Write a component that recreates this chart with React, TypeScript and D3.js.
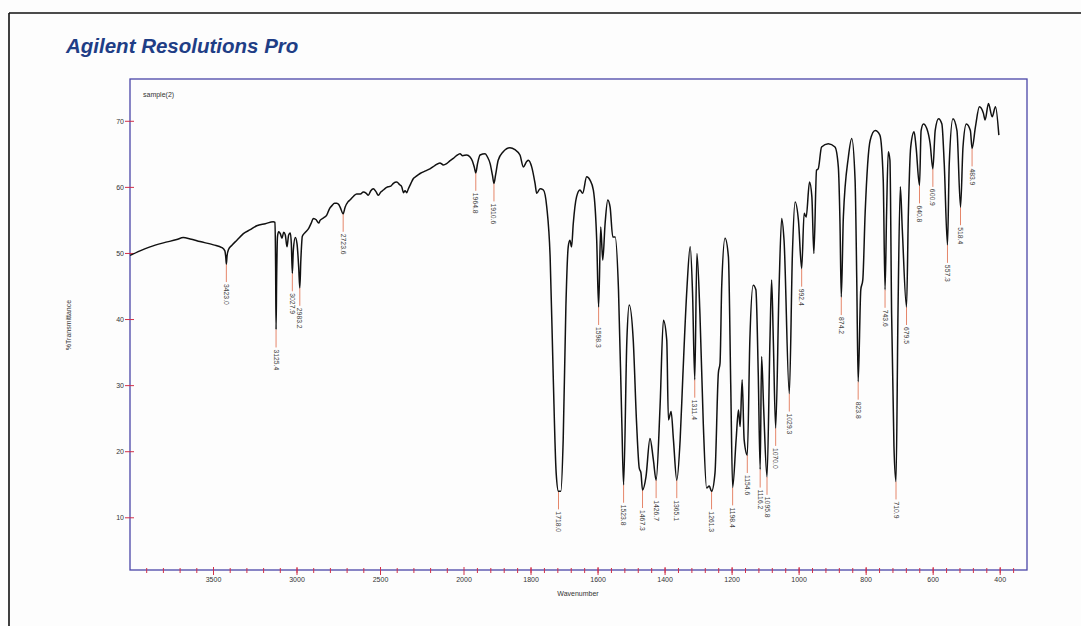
import React from 'react';
import * as d3 from 'd3';

const wavenumbers = [
  4000, 3940, 3880, 3800, 3720, 3681, 3640, 3581, 3500, 3450, 3432, 3426, 3423, 3419, 3410, 3391, 3360, 3321, 3280, 3241, 3190, 3142, 3132, 3128, 3125.4, 3122, 3117, 3110, 3100, 3090, 3080, 3070, 3060, 3050, 3040, 3034, 3027.9, 3022, 3010, 3000, 2990, 2983.2, 2977, 2968, 2950, 2930, 2915, 2902, 2885, 2870, 2862, 2840, 2822, 2805, 2792, 2775, 2762, 2750, 2740, 2723.6, 2712, 2695, 2683, 2660, 2643, 2620, 2603, 2585, 2573, 2558, 2543, 2528, 2513, 2498, 2483, 2470, 2453, 2438, 2423, 2403, 2385, 2373, 2362, 2353, 2343, 2333, 2318, 2304, 2285, 2263, 2230, 2204, 2175, 2144, 2124, 2104, 2085, 2064, 2045, 2024, 2008, 1992, 1982, 1975, 1969, 1964.8, 1960, 1952, 1937, 1930, 1922, 1915, 1910.6, 1906, 1898, 1883, 1863, 1848, 1833, 1823, 1813, 1808, 1798, 1788, 1783, 1773, 1763, 1753, 1743, 1734, 1725, 1718, 1711, 1704, 1696, 1689, 1684, 1679, 1674, 1664, 1654, 1646, 1634, 1624, 1614, 1604, 1598.3, 1592, 1586, 1579, 1571, 1564, 1556, 1549, 1539, 1529, 1523.8, 1514, 1507, 1495, 1485, 1477, 1472, 1467.3, 1457, 1445, 1435, 1426.7, 1415, 1405, 1395, 1390, 1382, 1375, 1365.1, 1355, 1347, 1335, 1325, 1318, 1311.4, 1305, 1296, 1286, 1276, 1268, 1261.3, 1251, 1241, 1236, 1231, 1221, 1211, 1204, 1198.4, 1188, 1181, 1176, 1170, 1164, 1154.6, 1147, 1137, 1129, 1122, 1116.2, 1112, 1106, 1095.8, 1087, 1082, 1077, 1070, 1060, 1052, 1045, 1029.3, 1020, 1012, 1002, 992.4, 985, 979, 969, 962, 956, 948, 943, 933, 913, 893, 883, 878, 874.2, 868, 853, 843, 833, 828, 823.8, 816, 810, 803, 788, 773, 759, 749, 743.6, 739, 734, 729, 724, 717, 710.9, 705, 698, 692, 679.5, 674, 667, 657, 651, 640.8, 636, 629, 619, 609, 600.9, 594, 584, 574, 567, 557.3, 552, 541, 529, 518.4, 511, 501, 489, 483.9, 474, 462, 450, 445, 435, 424, 414, 404,
];

const transmittance = [
  49.7, 50.4, 51.0, 51.6, 52.1, 52.4, 52.2, 51.8, 51.3, 50.9, 50.4, 49.3, 48.4, 49.6, 50.6, 51.2, 52.0, 53.0, 53.6, 54.2, 54.5, 54.8, 54.7, 48.0, 38.5, 46.0, 52.5, 53.3, 53.0, 52.3, 53.2, 52.8, 51.0, 52.8, 53.1, 51.5, 47.0, 50.5, 52.4, 51.5, 48.0, 44.8, 49.0, 52.6, 53.2, 53.8, 54.6, 55.3, 55.1, 54.6, 55.0, 55.4, 55.8, 56.8, 57.2, 57.6, 57.6, 57.4, 56.9, 56.0, 57.0, 57.8, 58.1, 58.7, 59.0, 59.0, 59.3, 59.1, 58.8, 59.5, 59.8, 59.4, 58.8, 59.3, 59.6, 59.9, 60.1, 60.2, 60.6, 60.8, 60.4, 60.1, 59.2, 59.5, 59.2, 59.8, 60.6, 61.3, 61.7, 62.1, 62.5, 62.8, 63.3, 63.7, 63.4, 63.6, 64.0, 64.4, 64.8, 65.1, 64.8, 64.9, 64.6, 64.0, 63.0, 62.2, 63.5, 64.9, 65.1, 64.6, 63.6, 61.8, 60.6, 61.8, 64.1, 65.4, 66.0, 65.7, 64.9, 63.1, 63.9, 64.1, 63.1, 60.6, 59.1, 59.8, 59.6, 57.0, 49.5, 31.9, 16.8, 14.0, 14.0, 21.8, 41.9, 51.0, 52.0, 51.0, 54.5, 58.6, 59.6, 59.1, 61.6, 61.1, 59.6, 52.0, 41.9, 54.0, 49.0, 54.5, 58.1, 57.0, 52.5, 52.5, 44.5, 24.3, 15.0, 36.9, 42.2, 36.9, 24.3, 17.5, 16.8, 14.2, 16.2, 22.0, 18.8, 15.7, 26.8, 39.9, 36.9, 24.8, 26.1, 21.8, 15.7, 21.8, 31.4, 44.5, 51.0, 44.0, 30.9, 50.0, 40.9, 24.3, 14.5, 14.8, 14.0, 16.8, 31.9, 33.4, 45.0, 52.3, 49.5, 30.0, 14.6, 21.8, 26.3, 23.8, 30.9, 21.8, 19.5, 36.9, 45.2, 44.5, 31.9, 17.3, 34.4, 26.8, 16.2, 36.9, 46.0, 36.9, 23.6, 44.5, 55.3, 52.0, 28.8, 50.0, 57.8, 55.0, 47.7, 56.1, 55.5, 60.8, 58.6, 50.0, 62.6, 62.8, 66.1, 66.6, 66.1, 63.1, 54.5, 43.4, 55.5, 64.6, 67.4, 61.1, 46.0, 30.6, 44.5, 46.0, 56.1, 67.1, 68.6, 67.9, 61.1, 44.5, 56.1, 65.4, 64.1, 40.9, 20.8, 15.5, 40.9, 60.1, 53.5, 41.9, 56.1, 66.1, 68.4, 66.1, 60.3, 68.6, 69.6, 68.9, 66.6, 62.8, 68.6, 70.4, 69.6, 63.6, 51.3, 63.6, 70.4, 68.6, 57.0, 66.1, 69.6, 68.6, 65.9, 69.1, 72.2, 71.2, 70.2, 72.7, 70.7, 72.2, 67.9,
];

const peakWavenumbers = [3423.0, 3125.4, 3027.9, 2983.2, 2723.6, 1964.8, 1910.6, 1718.0, 1598.3, 1523.8, 1467.3, 1426.7, 1365.1, 1311.4, 1261.3, 1198.4, 1154.6, 1116.2, 1095.8, 1070.0, 1029.3, 992.4, 874.2, 823.8, 743.6, 710.9, 679.5, 640.8, 600.9, 557.3, 518.4, 483.9];
const peakTransmittance = [48.4, 38.5, 47.0, 44.8, 56.0, 62.2, 60.6, 14.0, 41.9, 15.0, 14.2, 15.7, 15.7, 30.9, 14.0, 14.6, 19.5, 17.3, 16.2, 23.6, 28.8, 47.7, 43.4, 30.6, 44.5, 15.5, 41.9, 60.3, 62.8, 51.3, 57.0, 65.9];
const peakLabels = ['3423.0', '3125.4', '3027.9', '2983.2', '2723.6', '1964.8', '1910.6', '1718.0', '1598.3', '1523.8', '1467.3', '1426.7', '1365.1', '1311.4', '1261.3', '1198.4', '1154.6', '1116.2', '1095.8', '1070.0', '1029.3', '992.4', '874.2', '823.8', '743.6', '710.9', '679.5', '640.8', '600.9', '557.3', '518.4', '483.9'];

const xTickValues = [3500, 3000, 2500, 2000, 1800, 1600, 1400, 1200, 1000, 800, 600, 400];
const yTickValues = [10, 20, 30, 40, 50, 60, 70];

const FONT = '"Liberation Sans", Arial, sans-serif';

export default function App() {
  const x = d3.scaleLinear().domain([4000, 2000, 320]).range([130, 464, 1027]);
  const y = d3.scaleLinear().domain([2.1, 76.4]).range([570, 79]);

  const pts: [number, number][] = wavenumbers.map((w, i) => [w, transmittance[i]]);
  const line = d3
    .line<[number, number]>()
    .x((d) => x(d[0]))
    .y((d) => y(d[1]))
    .curve(d3.curveMonotoneX);

  const minor: number[] = [];
  for (let w = 3900; w > 2000; w -= 100) minor.push(w);
  for (let w = 1960; w > 320; w -= 40) minor.push(w);

  const [x0, x1] = [x(4000), x(320)];
  const [yb, yt] = [y(2.1), y(76.4)];
  const axisColor = '#4a46a8';
  const tickColor = '#d0304a';
  const leaderColor = '#e5866a';

  return (
    <svg
      width={1081}
      height={626}
      style={{ position: 'absolute', left: 0, top: 0, background: '#fdfdfd' }}
      fontFamily={FONT}
    >
      <rect x={0} y={0} width={1081} height={626} fill="#fdfdfd" />
      <line x1={9} y1={13} x2={1081} y2={13} stroke="#111" strokeWidth={1.6} />
      <line x1={9} y1={13} x2={9} y2={626} stroke="#111" strokeWidth={1.6} />

      <text x={66} y={53} fontSize={20.5} fontWeight="bold" fontStyle="italic" fill="#1f3e86" fontFamily={FONT}>
        Agilent Resolutions Pro
      </text>

      <rect x={x0} y={yt} width={x1 - x0} height={yb - yt} fill="none" stroke={axisColor} strokeWidth={1.3} />

      <text x={143} y={97} fontSize={7} fill="#333" fontFamily={FONT}>sample(2)</text>

      {yTickValues.map((v) => (
        <g key={'y' + v}>
          <line x1={x0 - 5} x2={x0 + 4} y1={y(v)} y2={y(v)} stroke={tickColor} strokeWidth={1} />
          <text x={x0 - 6} y={y(v) + 2.5} fontSize={7} textAnchor="end" fill="#333" fontFamily={FONT}>{v}</text>
        </g>
      ))}

      {minor.map((v) => (
        <line key={'m' + v} x1={x(v)} x2={x(v)} y1={yb - 2} y2={yb + 3} stroke={tickColor} strokeWidth={1} />
      ))}
      {xTickValues.map((v) => (
        <g key={'x' + v}>
          <line x1={x(v)} x2={x(v)} y1={yb - 3} y2={yb + 5} stroke={tickColor} strokeWidth={1} />
          <text x={x(v)} y={yb + 12} fontSize={7} textAnchor="middle" fill="#333" fontFamily={FONT}>{v}</text>
        </g>
      ))}

      <text x={578} y={596} fontSize={7} textAnchor="middle" fill="#333" fontFamily={FONT}>Wavenumber</text>
      <text transform="translate(71,325) rotate(-90)" fontSize={7} textAnchor="middle" fill="#333" fontFamily={FONT}>%Transmittance</text>

      {peakWavenumbers.map((w, i) => {
        const px = x(w);
        const py = y(peakTransmittance[i]);
        return (
          <g key={'p' + i}>
            <line x1={px} x2={px} y1={py} y2={py + 18} stroke={leaderColor} strokeWidth={1} />
            <text
              transform={`translate(${px - 2.5},${py + 20}) rotate(90)`}
              fontSize={6.8}
              fill="#444"
              fontFamily={FONT}
            >
              {peakLabels[i]}
            </text>
          </g>
        );
      })}

      <path d={line(pts) || ''} fill="none" stroke="#111" strokeWidth={1.5} strokeLinejoin="round" />
    </svg>
  );
}
